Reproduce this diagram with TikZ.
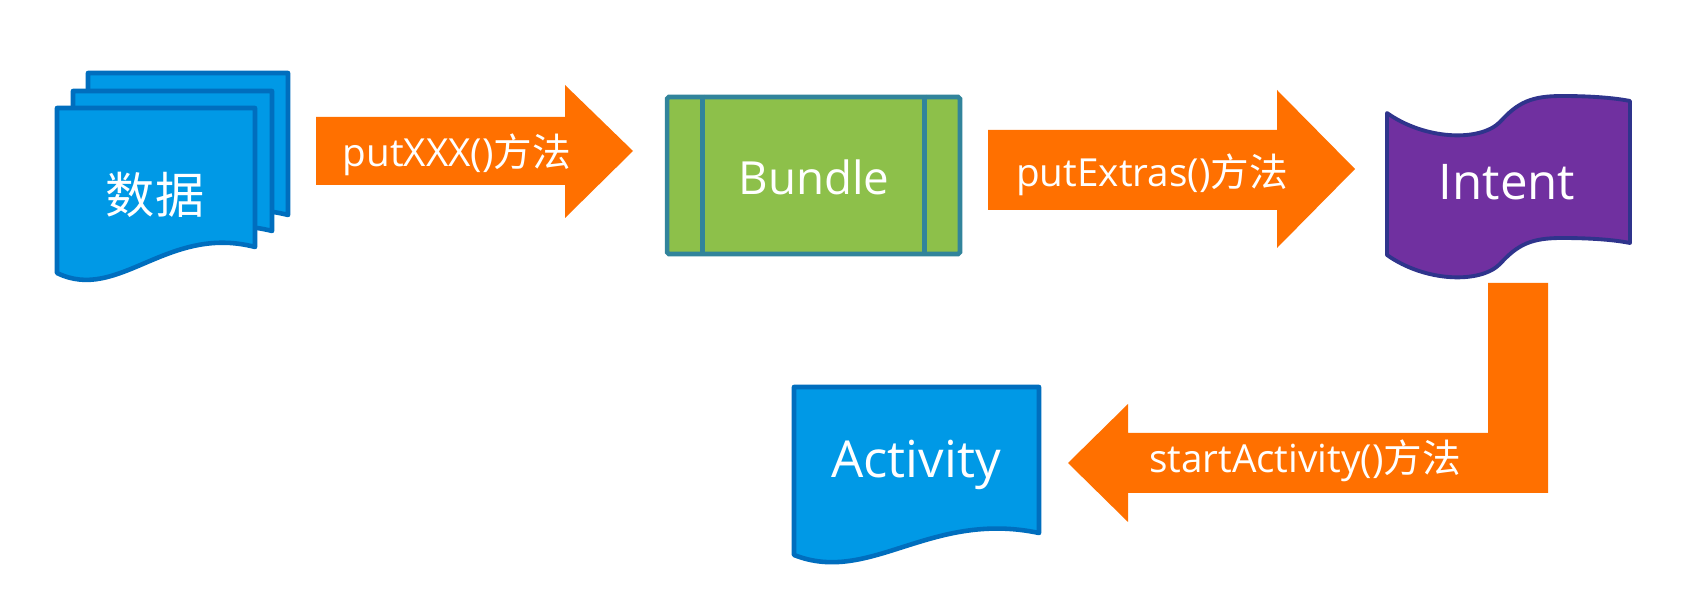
\documentclass[tikz,border=0pt]{standalone}
\usepackage{fontspec}
\setmainfont{Open Sans}
\newfontfamily\cjk{Noto Sans CJK SC}

\definecolor{arroworange}{RGB}{255,112,0}
\definecolor{docblue}{RGB}{0,153,230}
\definecolor{docedge}{RGB}{0,110,190}
\definecolor{bundlegreen}{RGB}{141,192,74}
\definecolor{bundleedge}{RGB}{49,132,155}
\definecolor{intentpurple}{RGB}{112,48,160}
\definecolor{intentedge}{RGB}{47,52,140}

% x0, top, x1, bottom left, bottom right
\newcommand{\docpage}[5]{%
  \filldraw[docpage] (#1,#2) -- (#3,#2) -- (#3,#5)
    .. controls ({#1+0.555*(#3-#1)},{#5-23}) and ({#1+0.31*(#3-#1)},{#4+30}) .. (#1,#4) -- cycle;}

\tikzset{
  docpage/.style={fill=docblue, draw=docedge, line width=2.6pt, line join=round},
  blockarrow/.style={fill=arroworange},
  arrowtext/.style={text=white, font=\fontsize{22}{26}\selectfont, anchor=base, inner sep=0pt},
  shapetext/.style={text=white, font=\fontsize{29}{34}\selectfont, anchor=base, inner sep=0pt},
}

\begin{document}
\begin{tikzpicture}[x=0.02cm, y=-0.02cm]
\useasboundingbox (0,0) rectangle (1695,604);
\fill[white] (0,0) rectangle (1695,604);

% data pages
\docpage{88}{73}{288}{238}{215}
\docpage{73}{91}{272}{256}{231}
\docpage{57}{108}{255}{273}{247}
\node[text=white, font=\fontsize{28}{34}\selectfont\cjk, inner sep=0pt] (data) at (155,195) {数据};

% putXXX arrow
\fill[blockarrow] (316,117) -- (565,117) -- (565,85) -- (633,151) -- (565,218) -- (565,185) -- (316,185) -- cycle;
\node[arrowtext] (putxxx) at (457,167) {putXXX(){\cjk 方法}};

% bundle
\node[draw=bundleedge, fill=bundlegreen, line width=2.6pt, rounded corners=1pt,
  minimum width=5.86cm, minimum height=3.14cm, inner sep=0pt] (bundle) at (813.5,175.5) {};
\draw[bundleedge, line width=2.6pt] ([xshift=0.76cm]bundle.north west) -- ([xshift=0.76cm]bundle.south west);
\draw[bundleedge, line width=2.6pt] ([xshift=-0.76cm]bundle.north east) -- ([xshift=-0.76cm]bundle.south east);
\node[shapetext, font=\fontsize{26}{30}\selectfont] (bundletext) at (814,195) {Bundle};

% putExtras arrow
\fill[blockarrow] (988,130) -- (1277,130) -- (1277,90) -- (1355,169) -- (1277,248) -- (1277,210) -- (988,210) -- cycle;
\node[arrowtext] (putextras) at (1152,187) {putExtras(){\cjk 方法}};

% intent
\filldraw[fill=intentpurple, draw=intentedge, line width=2.2pt, line join=round]
  (1387,113) .. controls (1425,140) and (1480,142) .. (1500,122)
  .. controls (1518,102) and (1532,96) .. (1562,96)
  .. controls (1592,96) and (1615,98) .. (1630,101) -- (1630,243)
  .. controls (1615,240) and (1592,238) .. (1562,238)
  .. controls (1532,238) and (1518,244) .. (1500,264)
  .. controls (1480,284) and (1425,282) .. (1387,255) -- cycle;
\node[shapetext, font=\fontsize{28}{32}\selectfont] (intent) at (1507,200) {Intent};

% startActivity arrow
\fill[blockarrow] (1548,283) -- (1548,493) -- (1128,493) -- (1128,522) -- (1068,463)
  -- (1128,404) -- (1128,433) -- (1488,433) -- (1488,283) -- cycle;
\node[arrowtext] (startact) at (1305,473) {startActivity(){\cjk 方法}};

% activity
\docpage{794}{387}{1039}{555}{533}
\node[shapetext] (activity) at (916,478) {Activity};
\end{tikzpicture}
\end{document}
